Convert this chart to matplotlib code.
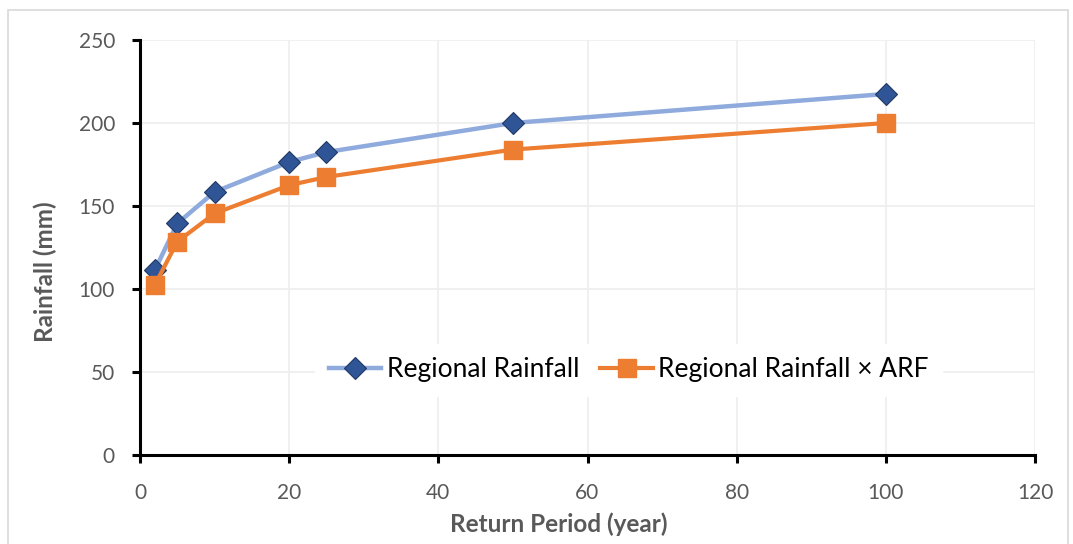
import matplotlib
matplotlib.use("Agg")
import matplotlib.pyplot as plt
from matplotlib.patches import Rectangle

return_period = [2, 5, 10, 20, 25, 50, 100]
regional_rainfall = [111.5, 139.5, 158.5, 176.5, 182.5, 200.0, 217.5]
regional_rainfall_arf = [102.5, 128.5, 145.5, 162.5, 167.5, 184.0, 200.0]

x_ticks = [0, 20, 40, 60, 80, 100, 120]
y_ticks = [0, 50, 100, 150, 200, 250]

plt.rcParams["font.family"] = ["Lato", "DejaVu Sans"]

fig = plt.figure(figsize=(10.73, 5.44), dpi=100)
fig.patches.append(Rectangle((8 / 1073, -0.01), 1060 / 1073, (544 - 10) / 544 + 0.01,
                             transform=fig.transFigure, fill=False,
                             edgecolor="#d9d9d9", linewidth=1.2))
ax = fig.add_axes([140 / 1073, 89 / 544, 895 / 1073, 415 / 544])

ax.plot(return_period, regional_rainfall, color="#8FAADC", linewidth=3.2,
        marker="D", markersize=11, markerfacecolor="#2F5597",
        markeredgecolor="#1F3864", markeredgewidth=0.8,
        label="Regional Rainfall", zorder=3)
ax.plot(return_period, regional_rainfall_arf, color="#ED7D31", linewidth=3.0,
        marker="s", markersize=13, markerfacecolor="#ED7D31",
        markeredgecolor="#ED7D31", label="Regional Rainfall × ARF", zorder=3)

ax.set_xlim(0, 120)
ax.set_ylim(0, 250)
ax.set_xticks(x_ticks)
ax.set_yticks(y_ticks)
ax.grid(True, color="#eeeeee", linewidth=1.2)
ax.set_axisbelow(True)

for side in ("top", "right"):
    ax.spines[side].set_visible(False)
for side in ("left", "bottom"):
    ax.spines[side].set_linewidth(2.2)
    ax.spines[side].set_color("black")

ax.tick_params(axis="both", direction="out", length=6, width=2.2, color="black",
               labelsize=15, labelcolor="#595959")
ax.tick_params(axis="x", pad=14)
ax.tick_params(axis="y", pad=12)

ax.set_xlabel("Return Period (year)", fontsize=17.5, fontweight="bold",
              color="#595959")
ax.set_ylabel("Rainfall (mm)", fontsize=17.5, fontweight="bold",
              color="#595959")
# Excel puts the axis titles slightly off the plot-area centre
ax.xaxis.set_label_coords(0.468, -0.138)
ax.yaxis.set_label_coords(-0.093, 0.442)

leg = ax.legend(loc="center", bbox_to_anchor=(0.546, 0.205), ncol=2,
                frameon=True, fontsize=19, handlelength=2.0,
                columnspacing=0.8, handletextpad=0.2, borderpad=0.5,
                borderaxespad=0)
leg.get_frame().set_facecolor("white")
leg.get_frame().set_edgecolor("white")
leg.get_frame().set_alpha(1.0)

fig.savefig("out.png", dpi=100)
